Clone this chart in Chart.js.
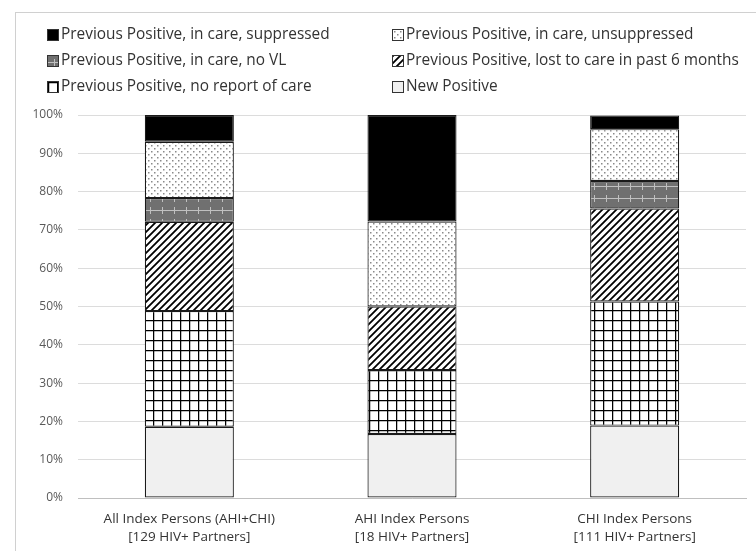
<!DOCTYPE html>
<html>
<head>
<meta charset="utf-8">
<script src="https://cdn.jsdelivr.net/npm/chart.js@4"></script>
<style>
  html, body { margin: 0; padding: 0; background: #fff; }
  #wrap { position: relative; width: 756px; height: 551px; overflow: hidden; }
  #frame { position: absolute; left: 15px; top: 12px; right: -2px; bottom: -2px; border-left: 1px solid #d0d0d0; border-top: 1px solid #d0d0d0; }
  #chart { position: absolute; left: 0; top: 0; }
  .leg { position: absolute; font-family: "Open Sans", "Noto Sans", sans-serif; font-size: 15.4px; color: #333; white-space: nowrap; line-height: 18px; }
  .leg canvas { position: absolute; left: 0; top: 4px; border: 1px solid #333; box-sizing: border-box; }
  .leg span { position: absolute; left: 14px; top: 0; }
</style>
</head>
<body>
<div id="wrap">
  <div id="frame"></div>
  <canvas id="chart" width="756" height="551"></canvas>
  <div id="legend"></div>
</div>
<script>
  // categories (two-line labels)
  const categories = [
    ['All Index Persons (AHI+CHI)', '[129 HIV+ Partners]'],
    ['AHI Index Persons', '[18 HIV+ Partners]'],
    ['CHI Index Persons', '[111 HIV+ Partners]']
  ];

  // percent of partners, stacked bottom to top
  const newPositive = [18.6, 16.7, 18.9];
  const noReportOfCare = [30.2, 16.7, 32.4];
  const lostToCare = [23.3, 16.6, 24.3];
  const inCareNoVL = [6.2, 0, 7.2];
  const inCareUnsuppressed = [14.7, 22.2, 13.5];
  const inCareSuppressed = [7.0, 27.8, 3.6];

  const yTicks = [0, 10, 20, 30, 40, 50, 60, 70, 80, 90, 100];

  function makePattern(kind) {
    const c = document.createElement('canvas');
    const ctx = c.getContext('2d');
    if (kind === 'solid') {
      c.width = c.height = 4;
      ctx.fillStyle = '#000';
      ctx.fillRect(0, 0, 4, 4);
    } else if (kind === 'dots') {
      c.width = c.height = 6;
      ctx.fillStyle = '#fff';
      ctx.fillRect(0, 0, 6, 6);
      ctx.fillStyle = '#8a8a8a';
      ctx.fillRect(1, 1, 1.5, 1.5);
      ctx.fillRect(4, 4, 1.5, 1.5);
    } else if (kind === 'gray') {
      c.width = c.height = 12;
      ctx.fillStyle = '#707070';
      ctx.fillRect(0, 0, 12, 12);
      ctx.strokeStyle = '#c0c0c0';
      ctx.lineWidth = 1;
      ctx.beginPath();
      ctx.moveTo(0, 6.5); ctx.lineTo(12, 6.5);
      ctx.moveTo(6.5, 3); ctx.lineTo(6.5, 10);
      ctx.stroke();
    } else if (kind === 'diag') {
      c.width = c.height = 7;
      ctx.fillStyle = '#fff';
      ctx.fillRect(0, 0, 7, 7);
      ctx.strokeStyle = '#000';
      ctx.lineWidth = 1.8;
      ctx.beginPath();
      ctx.moveTo(-1, 8); ctx.lineTo(8, -1);
      ctx.moveTo(-1, 1); ctx.lineTo(1, -1);
      ctx.moveTo(6, 8); ctx.lineTo(8, 6);
      ctx.stroke();
    } else if (kind === 'grid') {
      c.width = 9; c.height = 10;
      ctx.fillStyle = '#fff';
      ctx.fillRect(0, 0, 9, 10);
      ctx.strokeStyle = '#000';
      ctx.lineWidth = 1.5;
      ctx.beginPath();
      ctx.moveTo(0, 0.5); ctx.lineTo(9, 0.5);
      ctx.moveTo(0.5, 0); ctx.lineTo(0.5, 10);
      ctx.stroke();
    } else {
      c.width = c.height = 4;
      ctx.fillStyle = '#f0f0f0';
      ctx.fillRect(0, 0, 4, 4);
    }
    return c;
  }

  const series = [
    { label: 'New Positive', data: newPositive, kind: 'light' },
    { label: 'Previous Positive, no report of care', data: noReportOfCare, kind: 'grid' },
    { label: 'Previous Positive, lost to care in past 6 months', data: lostToCare, kind: 'diag' },
    { label: 'Previous Positive, in care, no VL', data: inCareNoVL, kind: 'gray' },
    { label: 'Previous Positive, in care, unsuppressed', data: inCareUnsuppressed, kind: 'dots' },
    { label: 'Previous Positive, in care, suppressed', data: inCareSuppressed, kind: 'solid' }
  ];

  const ctx = document.getElementById('chart').getContext('2d');
  const datasets = series.map(s => ({
    label: s.label,
    data: s.data,
    backgroundColor: ctx.createPattern(makePattern(s.kind), 'repeat'),
    borderColor: '#1a1a1a',
    borderWidth: 1.2,
    borderSkipped: false,
    barPercentage: 0.8,
    categoryPercentage: 0.5
  }));

  // legend: two columns, three rows, in the original order
  const legendOrder = [
    ['Previous Positive, in care, suppressed', 'Previous Positive, in care, unsuppressed'],
    ['Previous Positive, in care, no VL', 'Previous Positive, lost to care in past 6 months'],
    ['Previous Positive, no report of care', 'New Positive']
  ];
  const legendEl = document.getElementById('legend');
  const colX = [47, 392];
  const rowY = [25, 51, 77];
  legendOrder.forEach((row, r) => {
    row.forEach((name, col) => {
      const s = series.find(x => x.label === name);
      const item = document.createElement('div');
      item.className = 'leg';
      item.style.left = colX[col] + 'px';
      item.style.top = rowY[r] + 'px';
      const sw = document.createElement('canvas');
      sw.width = 10; sw.height = 10;
      const sctx = sw.getContext('2d');
      sctx.fillStyle = sctx.createPattern(makePattern(s.kind), 'repeat');
      sctx.fillRect(0, 0, 10, 10);
      const txt = document.createElement('span');
      txt.textContent = name;
      item.appendChild(sw);
      item.appendChild(txt);
      legendEl.appendChild(item);
    });
  });

  new Chart(ctx, {
    type: 'bar',
    data: { labels: categories, datasets },
    options: {
      responsive: false,
      animation: false,
      layout: { padding: { left: 20, right: 10, top: 115, bottom: 0 } },
      plugins: {
        legend: { display: false },
        tooltip: { enabled: false }
      },
      scales: {
        x: {
          stacked: true,
          afterFit: axis => { axis.height = 53; },
          grid: { display: false, drawTicks: false },
          border: { color: '#bfbfbf', width: 1 },
          ticks: {
            color: '#333',
            padding: 12,
            font: { family: '"Open Sans", "Noto Sans", sans-serif', size: 13.5, lineHeight: 1.35 }
          }
        },
        y: {
          stacked: true,
          min: 0,
          max: 100,
          afterFit: axis => { axis.width = 58; },
          afterBuildTicks: axis => { axis.ticks = yTicks.map(v => ({ value: v })); },
          grid: { color: '#dcdcdc', drawTicks: false },
          border: { display: false },
          ticks: {
            color: '#595959',
            padding: 15,
            font: { family: '"Open Sans", "Noto Sans", sans-serif', size: 12 },
            callback: v => v + '%'
          }
        }
      }
    }
  });
</script>
</body>
</html>
